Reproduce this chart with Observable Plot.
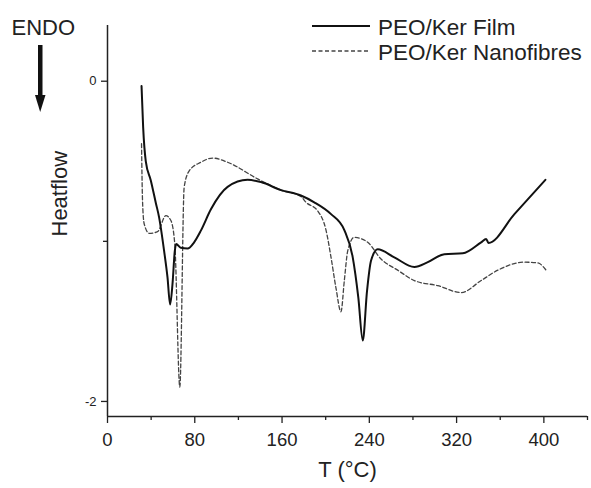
<!DOCTYPE html>
<html>
<head>
<meta charset="utf-8">
<script src="https://cdn.jsdelivr.net/npm/d3@7"></script>
<script src="https://cdn.jsdelivr.net/npm/@observablehq/plot@0.6"></script>
<style>
  html, body { margin: 0; padding: 0; background: #fff; }
  #wrap { position: relative; width: 591px; height: 488px; font-family: "Liberation Sans", Arial, sans-serif; }
  #overlay { position: absolute; left: 0; top: 0; pointer-events: none; }
</style>
</head>
<body>
<div id="wrap"></div>
<script>
// Series: PEO/Ker Film (solid)
const filmT = [31.2, 32.7, 35.1, 39.7, 44.3, 47.3, 51.9, 55.0, 57.4, 59.6, 61.7, 62.9, 67.2, 73.4, 79.4, 85.6, 94.8, 110.1, 128.4, 140.6, 159, 177.3, 189.5, 204.9, 217.1, 224.8, 229.9, 234, 237.9, 241.6, 247.7, 262.9, 281.3, 293.6, 308.8, 325.7, 342.5, 347.1, 349.2, 373, 401.4];
const filmH = [-0.03, -0.29, -0.50, -0.62, -0.76, -0.85, -1.06, -1.225, -1.395, -1.265, -1.06, -1.016, -1.04, -1.045, -1.006, -0.933, -0.80, -0.66, -0.616, -0.63, -0.68, -0.714, -0.756, -0.83, -0.93, -1.10, -1.35, -1.62, -1.31, -1.12, -1.05, -1.10, -1.16, -1.13, -1.08, -1.075, -1.006, -0.985, -1.01, -0.83, -0.616];
// Series: PEO/Ker Nanofibres (dashed)
const fibreT = [31.2, 32.1, 33.6, 38.2, 45.9, 53.5, 58.1, 61.7, 66.3, 70.3, 74.9, 85.6, 96.3, 110.1, 137.6, 159, 177.3, 181.9, 192.7, 200.3, 204.9, 209.4, 214, 217.1, 220.2, 226.2, 238.5, 250.7, 266, 281.3, 302.8, 324.1, 342.5, 357.8, 382.2, 394.5, 402];
const fibreH = [-0.39, -0.745, -0.89, -0.95, -0.94, -0.84, -0.87, -1.02, -1.91, -0.66, -0.56, -0.506, -0.48, -0.506, -0.61, -0.68, -0.72, -0.756, -0.81, -0.93, -1.10, -1.29, -1.44, -1.245, -1.06, -0.975, -1.006, -1.11, -1.18, -1.245, -1.277, -1.32, -1.245, -1.18, -1.13, -1.135, -1.18];

const xTicks = [0, 80, 160, 240, 320, 400];
const xMinorTicks = [40, 120, 200, 280, 360, 440];
const yTicks = [-2, 0];
const yMinorTicks = [-1];
const seriesNames = ["PEO/Ker Film", "PEO/Ker Nanofibres"];
const xTitle = "T (°C)";
const yTitle = "Heatflow";
const endoLabel = "ENDO";

const film = filmT.map((t, i) => ({t, h: filmH[i]}));
const fibre = fibreT.map((t, i) => ({t, h: fibreH[i]}));

const xDomain = [0, 440];
const yDomain = [-2.094, 0.348];
const ink = "#222";

const chart = Plot.plot({
  width: 591,
  height: 488,
  marginLeft: 107,
  marginRight: 4,
  marginTop: 25,
  marginBottom: 72,
  style: {fontFamily: "'Liberation Sans', Arial, sans-serif", color: ink, background: "#fff"},
  x: {domain: xDomain},
  y: {domain: yDomain},
  marks: [
    Plot.axisX(xTicks, {tickSize: 7, tickPadding: 9, fontSize: 18.5, label: null, strokeWidth: 1.3, tickFormat: d => String(d)}),
    Plot.axisX(xMinorTicks, {tickSize: 4, tickFormat: () => "", label: null, strokeWidth: 1.3}),
    Plot.axisY(yTicks, {tickSize: 6, tickPadding: 5, fontSize: 13, label: null, strokeWidth: 1.3, tickFormat: d => String(d)}),
    Plot.axisY(yMinorTicks, {tickSize: 4, tickFormat: () => "", label: null, strokeWidth: 1.3}),
    Plot.ruleX([xDomain[0]], {stroke: ink, strokeWidth: 1.5}),
    Plot.ruleY([yDomain[0]], {stroke: ink, strokeWidth: 1.5}),
    Plot.text([xTitle], {frameAnchor: "bottom", dy: 60, fontSize: 22, fill: ink}),
    Plot.text([yTitle], {frameAnchor: "left", rotate: -90, dx: -47.5, dy: 15.5, fontSize: 22, fill: ink}),
    Plot.line(fibre, {x: "t", y: "h", curve: "monotone-x", stroke: "#444", strokeWidth: 1.3, strokeDasharray: "4,2.5"}),
    Plot.line(film, {x: "t", y: "h", curve: "monotone-x", stroke: "#111", strokeWidth: 2})
  ]
});

const wrap = document.getElementById("wrap");
wrap.appendChild(chart);

// Legend and ENDO annotation overlay
const ns = "http://www.w3.org/2000/svg";
const ov = document.createElementNS(ns, "svg");
ov.setAttribute("id", "overlay");
ov.setAttribute("width", 591);
ov.setAttribute("height", 488);
ov.innerHTML = `
  <line x1="312" x2="370" y1="26" y2="26" stroke="#111" stroke-width="2"/>
  <line x1="312" x2="370" y1="51" y2="51" stroke="#444" stroke-width="1.3" stroke-dasharray="4,2.5"/>
  <text x="378" y="35" font-size="22.5" fill="${ink}" font-family="Liberation Sans, Arial, sans-serif">${seriesNames[0]}</text>
  <text x="378" y="60" font-size="22.5" fill="${ink}" font-family="Liberation Sans, Arial, sans-serif">${seriesNames[1]}</text>
  <text x="11.5" y="35" font-size="22" fill="${ink}" font-family="Liberation Sans, Arial, sans-serif">${endoLabel}</text>
  <rect x="38" y="45" width="4.5" height="52" fill="#111"/>
  <polygon points="35,95 45.5,95 40.2,112" fill="#111"/>
`;
wrap.appendChild(ov);
</script>
</body>
</html>
